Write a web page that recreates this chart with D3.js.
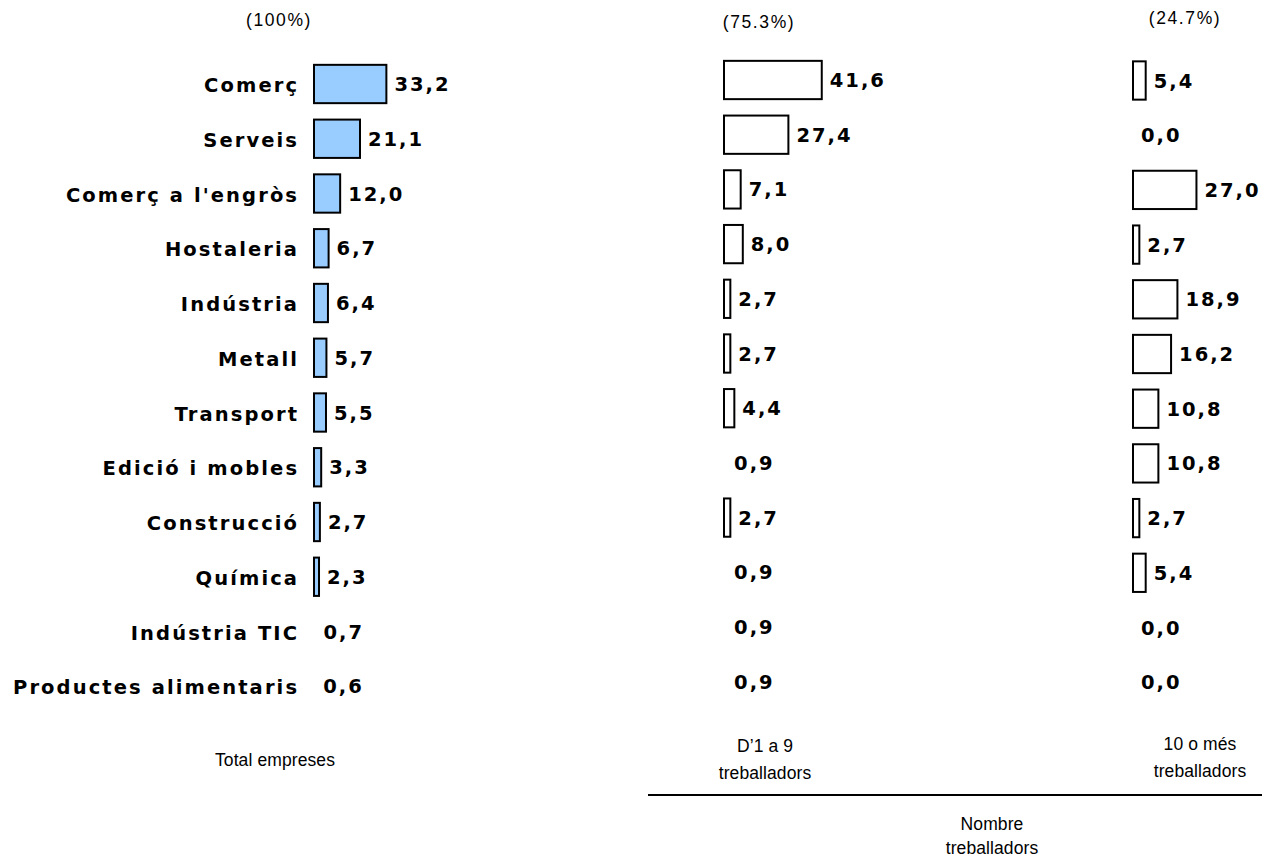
<!DOCTYPE html>
<html>
<head>
<meta charset="utf-8">
<script src="https://cdn.jsdelivr.net/npm/d3@7"></script>
<style>
  html, body { margin: 0; padding: 0; background: #fff; }
  svg { display: block; }
  .cat { font-family: "DejaVu Sans", Verdana, sans-serif; font-weight: bold; font-size: 19.5px; letter-spacing: 2.1px; fill: #000; }
  .val { font-family: "DejaVu Sans", Verdana, sans-serif; font-weight: bold; font-size: 19.5px; letter-spacing: 2px; fill: #000; }
  .lbl { font-family: "Liberation Sans", Arial, sans-serif; font-size: 17.5px; letter-spacing: 0.1px; fill: #000; }
  .hdr { font-family: "Liberation Sans", Arial, sans-serif; font-size: 17.5px; letter-spacing: 1.6px; fill: #000; }
</style>
</head>
<body>
<svg id="chart" width="1262" height="857"></svg>
<script>
const categories = ["Comerç", "Serveis", "Comerç a l'engròs", "Hostaleria", "Indústria", "Metall",
  "Transport", "Edició i mobles", "Construcció", "Química", "Indústria TIC", "Productes alimentaris"];
const totalValues  = [33.2, 21.1, 12.0, 6.7, 6.4, 5.7, 5.5, 3.3, 2.7, 2.3, 0.7, 0.6];
const smallValues  = [41.6, 27.4, 7.1, 8.0, 2.7, 2.7, 4.4, 0.9, 2.7, 0.9, 0.9, 0.9];
const largeValues  = [5.4, 0.0, 27.0, 2.7, 18.9, 16.2, 10.8, 10.8, 2.7, 5.4, 0.0, 0.0];
const shareLabels  = ["(100%)", "(75.3%)", "(24.7%)"];
const groupLabels  = [["Total empreses"], ["D\u20191 a 9", "treballadors"], ["10 o més", "treballadors"]];
const axisTitle    = ["Nombre", "treballadors"];

const svg = d3.select("#chart");
const fmt = v => d3.format(".1f")(v).replace(".", ",");

function panel(values, x0, pxMax, domMax, yTop, step, fill) {
  const x = d3.scaleLinear().domain([0, domMax]).range([x0, x0 + pxMax]);
  const y = d3.scaleBand().domain(categories)
    .range([yTop - step / 2, yTop + step * (categories.length - 0.5)])
    .paddingInner(0.3).paddingOuter(0.15);
  const g = svg.append("g");
  const rows = categories.map((c, i) => ({ c, v: values[i] }));
  g.selectAll("rect").data(rows.filter(d => d.v >= 1)).join("rect")
    .attr("x", x(0)).attr("y", d => y(d.c))
    .attr("width", d => x(d.v) - x(0)).attr("height", y.bandwidth())
    .attr("fill", fill).attr("stroke", "#000").attr("stroke-width", 2);
  g.selectAll("text.val").data(rows).join("text").attr("class", "val")
    .attr("x", d => x(d.v) + 8).attr("y", d => y(d.c) + y.bandwidth() / 2)
    .attr("dy", "0.36em").text(d => fmt(d.v));
  return { x, y };
}

const p1 = panel(totalValues, 314, 87.2, 40, 84, 54.75, "#99ccff");
panel(smallValues, 724, 105.75, 45, 80, 54.7, "#fff");
panel(largeValues, 1133, 105.75, 45, 80.5, 54.7, "#fff");

// category labels
svg.append("g").selectAll("text").data(categories).join("text").attr("class", "cat")
  .attr("x", 297 + 2.1).attr("text-anchor", "end")
  .attr("y", d => p1.y(d) + p1.y.bandwidth() / 2 + 1).attr("dy", "0.36em").text(d => d);

// share headers
const headerPos = [[279, 26], [759, 28], [1185, 24]];
svg.append("g").selectAll("text").data(shareLabels).join("text").attr("class", "hdr")
  .attr("text-anchor", "middle").attr("x", (d, i) => headerPos[i][0]).attr("y", (d, i) => headerPos[i][1])
  .text(d => d);

// group labels
const groupPos = [[275, 766], [765, 752], [1200, 750]];
groupLabels.forEach((lines, i) => {
  const t = svg.append("text").attr("class", "lbl").attr("text-anchor", "middle")
    .attr("x", groupPos[i][0]).attr("y", groupPos[i][1]);
  lines.forEach((l, j) => t.append("tspan").attr("x", groupPos[i][0]).attr("dy", j ? 27 : 0).text(l));
});

// separator line and axis title
svg.append("line").attr("x1", 648).attr("x2", 1262).attr("y1", 795).attr("y2", 795)
  .attr("stroke", "#000").attr("stroke-width", 2);
const at = svg.append("text").attr("class", "lbl").attr("text-anchor", "middle").attr("x", 992).attr("y", 830);
axisTitle.forEach((l, j) => at.append("tspan").attr("x", 992).attr("dy", j ? 24 : 0).text(l));
</script>
</body>
</html>
